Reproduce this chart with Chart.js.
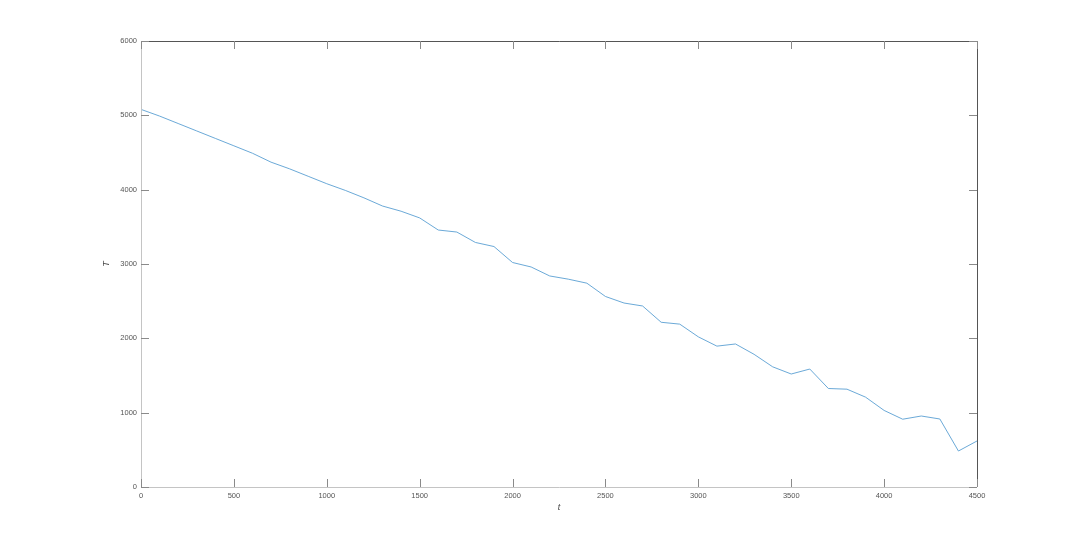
<!DOCTYPE html>
<html>
<head>
<meta charset="utf-8">
<script src="https://cdn.jsdelivr.net/npm/chart.js@4.4.0/dist/chart.umd.min.js"></script>
<style>
  body { margin: 0; background: #fff; }
  canvas { display: block; }
</style>
</head>
<body>
<canvas id="myChart" width="1080" height="548"></canvas>
<script>
const tValues = [0, 100, 200, 300, 400, 500, 600, 700, 800, 900,
  1000, 1100, 1200, 1300, 1400, 1500, 1600, 1700, 1800, 1900,
  2000, 2100, 2200, 2300, 2400, 2500, 2600, 2700, 2800, 2900,
  3000, 3100, 3200, 3300, 3400, 3500, 3600, 3700, 3800, 3900,
  4000, 4100, 4200, 4300, 4400, 4500];
const TValues = [5080, 4990, 4890, 4790, 4690, 4590, 4490, 4370, 4280, 4180,
  4080, 3990, 3890, 3780, 3710, 3620, 3457, 3430, 3290, 3235,
  3020, 2960, 2839, 2796, 2742, 2563, 2475, 2435, 2216, 2191,
  2020, 1895, 1924, 1785, 1617, 1520, 1587, 1325, 1316, 1209,
  1030, 912, 955, 915, 484, 619];
const xLabel = 't';
const yLabel = 'T';

// matlab style box with ticks pointing inwards
const boxPlugin = {
  id: 'boxPlugin',
  afterDraw(chart) {
    const ctx = chart.ctx;
    const a = chart.chartArea;
    const xs = chart.scales.x, ys = chart.scales.y;
    const len = 8;
    ctx.save();
    ctx.lineWidth = 1;
    // left + bottom light, top + right dark (as in picture)
    ctx.strokeStyle = '#c4c4c4';
    ctx.beginPath();
    ctx.moveTo(a.left + 0.5, a.top);
    ctx.lineTo(a.left + 0.5, a.bottom + 0.5);
    ctx.lineTo(a.right, a.bottom + 0.5);
    ctx.stroke();
    ctx.strokeStyle = '#555';
    ctx.beginPath();
    ctx.moveTo(a.left, a.top + 0.5);
    ctx.lineTo(a.right + 0.5, a.top + 0.5);
    ctx.lineTo(a.right + 0.5, a.bottom);
    ctx.stroke();

    ctx.strokeStyle = '#8a8a8a';
    ctx.beginPath();
    xs.ticks.forEach(t => {
      const px = Math.round(xs.getPixelForValue(t.value)) + 0.5;
      ctx.moveTo(px, a.bottom); ctx.lineTo(px, a.bottom - len);
      ctx.moveTo(px, a.top); ctx.lineTo(px, a.top + len);
    });
    ys.ticks.forEach(t => {
      const py = Math.round(ys.getPixelForValue(t.value)) + 0.5;
      ctx.moveTo(a.left, py); ctx.lineTo(a.left + len, py);
      ctx.moveTo(a.right, py); ctx.lineTo(a.right - len, py);
    });
    ctx.stroke();
    ctx.restore();
  }
};

const options = {
  type: 'line',
  data: {
    datasets: [{
      data: tValues.map((t, i) => ({x: t, y: TValues[i]})),
      borderColor: '#5a9fd2',
      borderWidth: 0.9,
      pointRadius: 0,
      tension: 0,
      fill: false
    }]
  },
  options: {
    responsive: false,
    animation: false,
    layout: {
      padding: {left: 101, right: 103, top: 41, bottom: 35}
    },
    plugins: {
      legend: {display: false},
      tooltip: {enabled: false}
    },
    scales: {
      x: {
        type: 'linear',
        min: 0,
        max: 4500,
        grid: {display: false, drawTicks: false},
        border: {display: false},
        ticks: {
          stepSize: 500,
          padding: 4,
          maxRotation: 0,
          color: '#555',
          font: {family: 'Liberation Sans', size: 7.5},
          callback: (v) => String(v)
        },
        title: {
          display: true,
          text: xLabel,
          padding: 0,
          color: '#444',
          font: {family: 'Liberation Sans', size: 9, style: 'italic'}
        },
        afterFit: (scale) => { scale.height = 26; }
      },
      y: {
        min: 0,
        max: 6000,
        grid: {display: false, drawTicks: false},
        border: {display: false},
        ticks: {
          stepSize: 1000,
          padding: 4,
          color: '#555',
          font: {family: 'Liberation Sans', size: 7.5},
          callback: (v) => String(v)
        },
        title: {
          display: true,
          text: yLabel,
          padding: 0,
          color: '#444',
          font: {family: 'Liberation Sans', size: 9, style: 'italic'}
        },
        afterFit: (scale) => { scale.width = 40; }
      }
    }
  },
  plugins: [boxPlugin]
};

const ctx = document.getElementById('myChart').getContext('2d');
new Chart(ctx, options);
</script>
</body>
</html>
